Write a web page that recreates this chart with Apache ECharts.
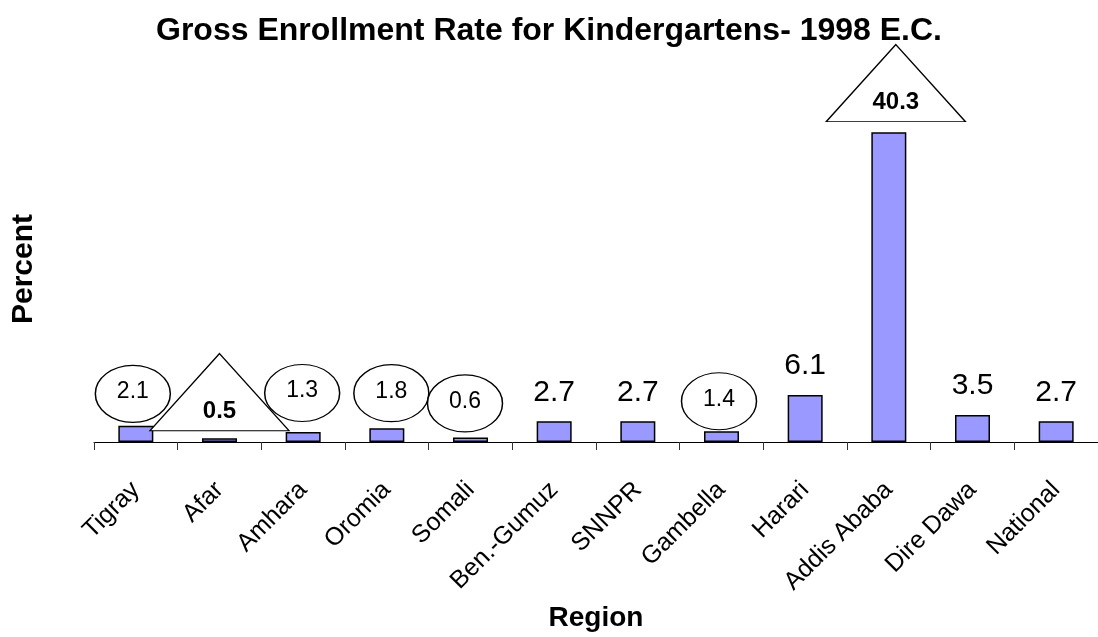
<!DOCTYPE html>
<html>
<head>
<meta charset="utf-8">
<script src="https://cdn.jsdelivr.net/npm/echarts@6/dist/echarts.min.js"></script>
<style>
html,body{margin:0;padding:0;background:#fff;}
#chart{width:1098px;height:637px;}
</style>
</head>
<body>
<div id="chart"></div>
<script>
const categories = ['Tigray', 'Afar', 'Amhara', 'Oromia', 'Somali', 'Ben.-Gumuz', 'SNNPR', 'Gambella', 'Harari', 'Addis Ababa', 'Dire Dawa', 'National'];
const values = [2.1, 0.5, 1.3, 1.8, 0.6, 2.7, 2.7, 1.4, 6.1, 40.3, 3.5, 2.7];
const titleText = 'Gross Enrollment Rate for Kindergartens- 1998 E.C.';
const xName = 'Region';
const yName = 'Percent';

// annotation shapes (styling only): index -> shape and offset from bar top
const callouts = {
  0: { shape: 'ellipse', dx: -3, dy: -32 },
  1: { shape: 'triangle', dx: 0, dy: -46 },
  2: { shape: 'ellipse', dx: -1, dy: -39 },
  3: { shape: 'ellipse', dx: 4.5, dy: -35 },
  4: { shape: 'ellipse', dx: -5.5, dy: -34 },
  7: { shape: 'ellipse', dx: -2.5, dy: -30 },
  9: { shape: 'triangle', dx: 7, dy: -49 }
};

const FONT = '"Liberation Sans", Arial, Helvetica, sans-serif';

const markData = Object.keys(callouts).map(k => {
  const i = Number(k);
  const c = callouts[i];
  const tri = c.shape === 'triangle';
  return {
    coord: [categories[i], values[i]],
    value: values[i],
    symbol: tri ? 'triangle' : 'circle',
    symbolSize: tri ? [139, 77] : [75, 57],
    symbolOffset: [c.dx, c.dy],
    itemStyle: { color: '#fff', borderColor: '#000', borderWidth: 1.3 },
    label: {
      show: true,
      position: 'inside',
      formatter: values[i].toFixed(1),
      fontFamily: FONT,
      fontSize: tri ? 24 : 23,
      fontWeight: tri ? 'bold' : 'normal',
      color: '#000',
      offset: tri ? [0, 19] : [0, -2]
    }
  };
});

const chart = echarts.init(document.getElementById('chart'), null, { renderer: 'canvas' });
chart.setOption({
  animation: false,
  backgroundColor: '#fff',
  title: {
    text: titleText,
    left: 'center',
    top: 10,
    textStyle: { fontFamily: FONT, fontSize: 32, fontWeight: 'bold', color: '#000' }
  },
  grid: { left: 94, right: -9, top: 96, bottom: 192, containLabel: false },
  xAxis: {
    type: 'category',
    data: categories,
    name: xName,
    nameLocation: 'middle',
    nameGap: 162,
    nameTextStyle: { fontFamily: FONT, fontSize: 28, fontWeight: 'bold', color: '#000' },
    axisLine: { show: true, lineStyle: { color: '#000', width: 1 } },
    axisTick: { show: true, length: 8, alignWithLabel: false, lineStyle: { color: '#333', width: 1 } },
    axisLabel: { rotate: 45, margin: 44, fontFamily: FONT, fontSize: 25, color: '#000', interval: 0 },
    splitLine: { show: false }
  },
  yAxis: {
    type: 'value',
    min: 0,
    max: 45,
    name: yName,
    nameLocation: 'middle',
    nameGap: 55,
    nameRotate: 90,
    nameTextStyle: { fontFamily: FONT, fontSize: 30, fontWeight: 'bold', color: '#000' },
    axisLine: { show: false },
    axisTick: { show: false },
    axisLabel: { show: false },
    splitLine: { show: false }
  },
  series: [{
    type: 'bar',
    clip: false,
    barWidth: 35,
    data: values.map((v, i) => callouts[i] ? { value: v, label: { show: false } } : v),
    itemStyle: { color: '#9999FF', borderColor: '#000', borderWidth: 1.5 },
    label: {
      show: true,
      position: 'top',
      distance: 14,
      fontFamily: FONT,
      fontSize: 30,
      color: '#000',
      formatter: p => p.value.toFixed(1)
    },
    markPoint: {
      silent: true,
      data: markData
    }
  }]
});
</script>
</body>
</html>
